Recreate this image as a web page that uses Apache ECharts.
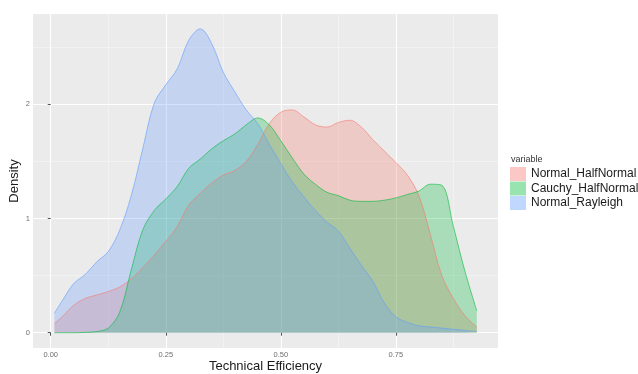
<!DOCTYPE html>
<html>
<head>
<meta charset="utf-8">
<script src="https://cdn.jsdelivr.net/npm/echarts@6/dist/echarts.min.js"></script>
<style>
html,body{margin:0;padding:0;background:#fff;}
#chart{width:638px;height:374px;}
</style>
</head>
<body>
<div id="chart"></div>
<script>
// Technical efficiency grid (x values)
const efficiency = [0.008, 0.025, 0.05, 0.075, 0.1, 0.125, 0.15, 0.175, 0.2, 0.225, 0.25, 0.275, 0.3, 0.325, 0.35, 0.375, 0.4, 0.425, 0.45, 0.475, 0.5, 0.525, 0.55, 0.575, 0.6, 0.625, 0.65, 0.675, 0.7, 0.725, 0.75, 0.775, 0.8, 0.825, 0.85, 0.875, 0.9, 0.926];
// Density values per variable
const normalHalfNormal = [0.08, 0.14, 0.24, 0.30, 0.33, 0.36, 0.40, 0.47, 0.57, 0.68, 0.80, 0.93, 1.12, 1.22, 1.31, 1.38, 1.42, 1.50, 1.65, 1.83, 1.93, 1.95, 1.89, 1.82, 1.80, 1.84, 1.86, 1.80, 1.69, 1.59, 1.49, 1.38, 1.20, 0.86, 0.50, 0.30, 0.15, 0.05];
const cauchyHalfNormal = [0, 0, 0, 0.003, 0.01, 0.04, 0.18, 0.55, 0.90, 1.07, 1.17, 1.28, 1.44, 1.52, 1.61, 1.68, 1.74, 1.82, 1.88, 1.82, 1.68, 1.53, 1.39, 1.30, 1.23, 1.20, 1.16, 1.15, 1.15, 1.16, 1.18, 1.21, 1.24, 1.30, 1.29, 0.93, 0.54, 0.19];
const normalRayleigh = [0.17, 0.28, 0.43, 0.51, 0.62, 0.71, 0.90, 1.20, 1.61, 2.01, 2.17, 2.31, 2.56, 2.66, 2.53, 2.28, 2.11, 1.95, 1.83, 1.65, 1.48, 1.32, 1.19, 1.07, 0.97, 0.89, 0.74, 0.59, 0.45, 0.26, 0.14, 0.09, 0.06, 0.05, 0.04, 0.03, 0.02, 0.01];

const seriesNames = ['Normal_HalfNormal', 'Cauchy_HalfNormal', 'Normal_Rayleigh'];
const seriesValues = [normalHalfNormal, cauchyHalfNormal, normalRayleigh];
const seriesRGB = ['248,118,109', '0,186,56', '97,156,255'];

const xMajorTicks = [0, 0.25, 0.5, 0.75];
const xMinorTicks = [0.125, 0.375, 0.625, 0.875];
const yMajorTicks = [0, 1, 2];
const yMinorTicks = [0.5, 1.5, 2.5];

const X_MIN = -0.0385, X_MAX = 0.972;
const Y_MIN = -0.134, Y_MAX = 2.79;

const chart = echarts.init(document.getElementById('chart'), null, {renderer: 'canvas'});

const labelStyle = {color: '#6e6e6e', fontSize: 7.5, fontFamily: 'Liberation Sans'};

function majorAxis(isX) {
  const ticks = isX ? xMajorTicks : yMajorTicks;
  return {
    type: 'value', gridIndex: 0,
    min: isX ? X_MIN : Y_MIN, max: isX ? X_MAX : Y_MAX,
    axisLine: {show: false},
    axisTick: {show: true, length: 3, customValues: ticks, lineStyle: {color: '#555', width: 1}},
    axisLabel: {show: true, customValues: ticks, margin: 3, ...labelStyle,
      formatter: v => isX ? v.toFixed(2) : String(Math.round(v))},
    splitLine: {show: true, lineStyle: {color: '#ffffff', width: 1.1}},
    name: isX ? 'Technical Efficiency' : 'Density',
    nameLocation: 'middle',
    nameGap: isX ? 12 : 12.5,
    nameMoveOverlap: false,
    nameTextStyle: {color: '#1a1a1a', fontSize: 13, fontFamily: 'Liberation Sans'}
  };
}
function minorAxis(isX) {
  const ticks = isX ? xMinorTicks : yMinorTicks;
  return {
    type: 'value', gridIndex: 0,
    min: isX ? X_MIN : Y_MIN, max: isX ? X_MAX : Y_MAX,
    axisLine: {show: false},
    axisTick: {show: false, customValues: ticks},
    axisLabel: {show: false, customValues: ticks},
    splitLine: {show: true, lineStyle: {color: '#f6f6f6', width: 0.6}}
  };
}

const series = seriesNames.map((name, i) => ({
  name: name,
  type: 'line',
  xAxisIndex: 0, yAxisIndex: 0,
  data: efficiency.map((x, j) => [x, seriesValues[i][j]]),
  smooth: 0.35,
  showSymbol: false,
  symbol: 'none',
  itemStyle: {color: 'rgba(' + seriesRGB[i] + ',0.4)'},
  lineStyle: {color: 'rgba(' + seriesRGB[i] + ',0.6)', width: 1},
  areaStyle: {color: 'rgba(' + seriesRGB[i] + ',0.4)', origin: 0},
  emphasis: {disabled: true},
  silent: true
}));

chart.setOption({
  animation: false,
  backgroundColor: '#ffffff',
  textStyle: {fontFamily: 'Liberation Sans'},
  grid: {left: 33, right: 140, top: 14, bottom: 26, show: true, backgroundColor: '#ebebeb', borderWidth: 0,
    containLabel: false, outerBoundsMode: 'none'},
  xAxis: [majorAxis(true), minorAxis(true)],
  yAxis: [majorAxis(false), minorAxis(false)],
  title: {text: 'variable', left: 511, top: 155, padding: 0,
    textStyle: {fontSize: 9, fontWeight: 'normal', color: '#333', fontFamily: 'Liberation Sans'}},
  legend: {
    data: seriesNames,
    orient: 'vertical',
    left: 510, top: 167,
    padding: 0,
    itemWidth: 16, itemHeight: 14, itemGap: 0.5,
    icon: 'rect',
    itemStyle: {borderWidth: 0},
    textStyle: {fontSize: 12, color: '#1a1a1a', fontFamily: 'Liberation Sans', lineHeight: 14},
    selectedMode: false
  },
  series: series
});
</script>
</body>
</html>
